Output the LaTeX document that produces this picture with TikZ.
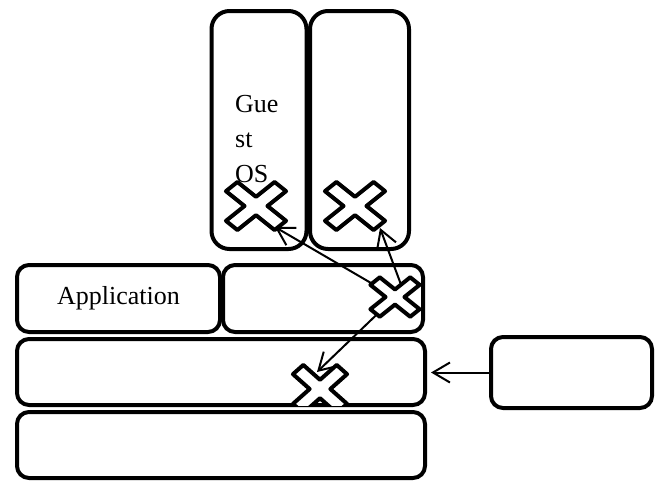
\documentclass[tikz,border=0pt]{standalone}
\usepackage{fontspec}
\setmainfont{Liberation Serif}
\usetikzlibrary{arrows.meta,positioning}

\tikzset{
  cross/.pic={\draw[line width=4pt,line join=round,fill=white,xscale=1.25,rotate=45] (6.5,6.5) -- (27.5,6.5) -- (27.5,-6.5) -- (6.5,-6.5) -- (6.5,-27.5) -- (-6.5,-27.5) -- (-6.5,-6.5) -- (-27.5,-6.5) -- (-27.5,6.5) -- (-6.5,6.5) -- (-6.5,27.5) -- (6.5,27.5) -- cycle;}
}

\begin{document}
\begin{tikzpicture}[x=1pt,y=-1pt,>={Straight Barb[length=17pt,width=20pt]},
  layerbox/.style={draw,line width=4pt,rounded corners=12pt,fill=white,inner sep=0pt,font=\fontsize{26}{35}\selectfont},
  tallbox/.style={layerbox,rounded corners=18pt},
  arr/.style={->,line width=2pt}]
\useasboundingbox (0,0) rectangle (662,480);
\node[tallbox,minimum width=95pt,minimum height=238pt] (guest_os) at (259,130) {};
\node[tallbox,minimum width=99pt,minimum height=238pt] (guest_b) at (359.5,130) {};
\node[font=\fontsize{26}{35}\selectfont,align=left,inner sep=0pt,anchor=north west] (guest_lbl) at (235,95) {Gue\\st\\OS};
\node[layerbox,minimum width=203pt,minimum height=67pt] (app) at (118.5,298.5) {Application};
\node[layerbox,minimum width=200pt,minimum height=67pt] (app_b) at (323,298.5) {};
\node[layerbox,minimum width=408pt,minimum height=66pt] (hyp) at (221,372) {};
\node[layerbox,minimum width=408pt,minimum height=66pt] (hw) at (221,445) {};
\node[layerbox,minimum width=161pt,minimum height=71pt] (dev) at (571.5,372.5) {};
\coordinate (x_guest) at (256,206);
\coordinate (x_guest_b) at (355,206);
\coordinate (x_app) at (395,297);
\coordinate (x_hyp) at (320,389);
\coordinate (s_app) at (403,290);
\coordinate (t_guest) at (275,227);
\coordinate (t_guest_b) at (380,228);
\coordinate (t_hyp) at (317,372);
\pic at (x_guest) {cross};
\pic at (x_guest_b) {cross};
\begin{scope}
\clip (0,0) rectangle (662,405);
\pic[xscale=0.9] at (x_hyp) {cross};
\end{scope}
\draw[arr] (x_app) -- (t_guest);
\draw[arr] (s_app) -- (t_guest_b);
\draw[arr] (x_app) -- (t_hyp);
\draw[arr,shorten >=4pt] (dev.west) -- (dev.west -| hyp.east);
\pic[scale=0.82] at (x_app) {cross};
\end{tikzpicture}
\end{document}
